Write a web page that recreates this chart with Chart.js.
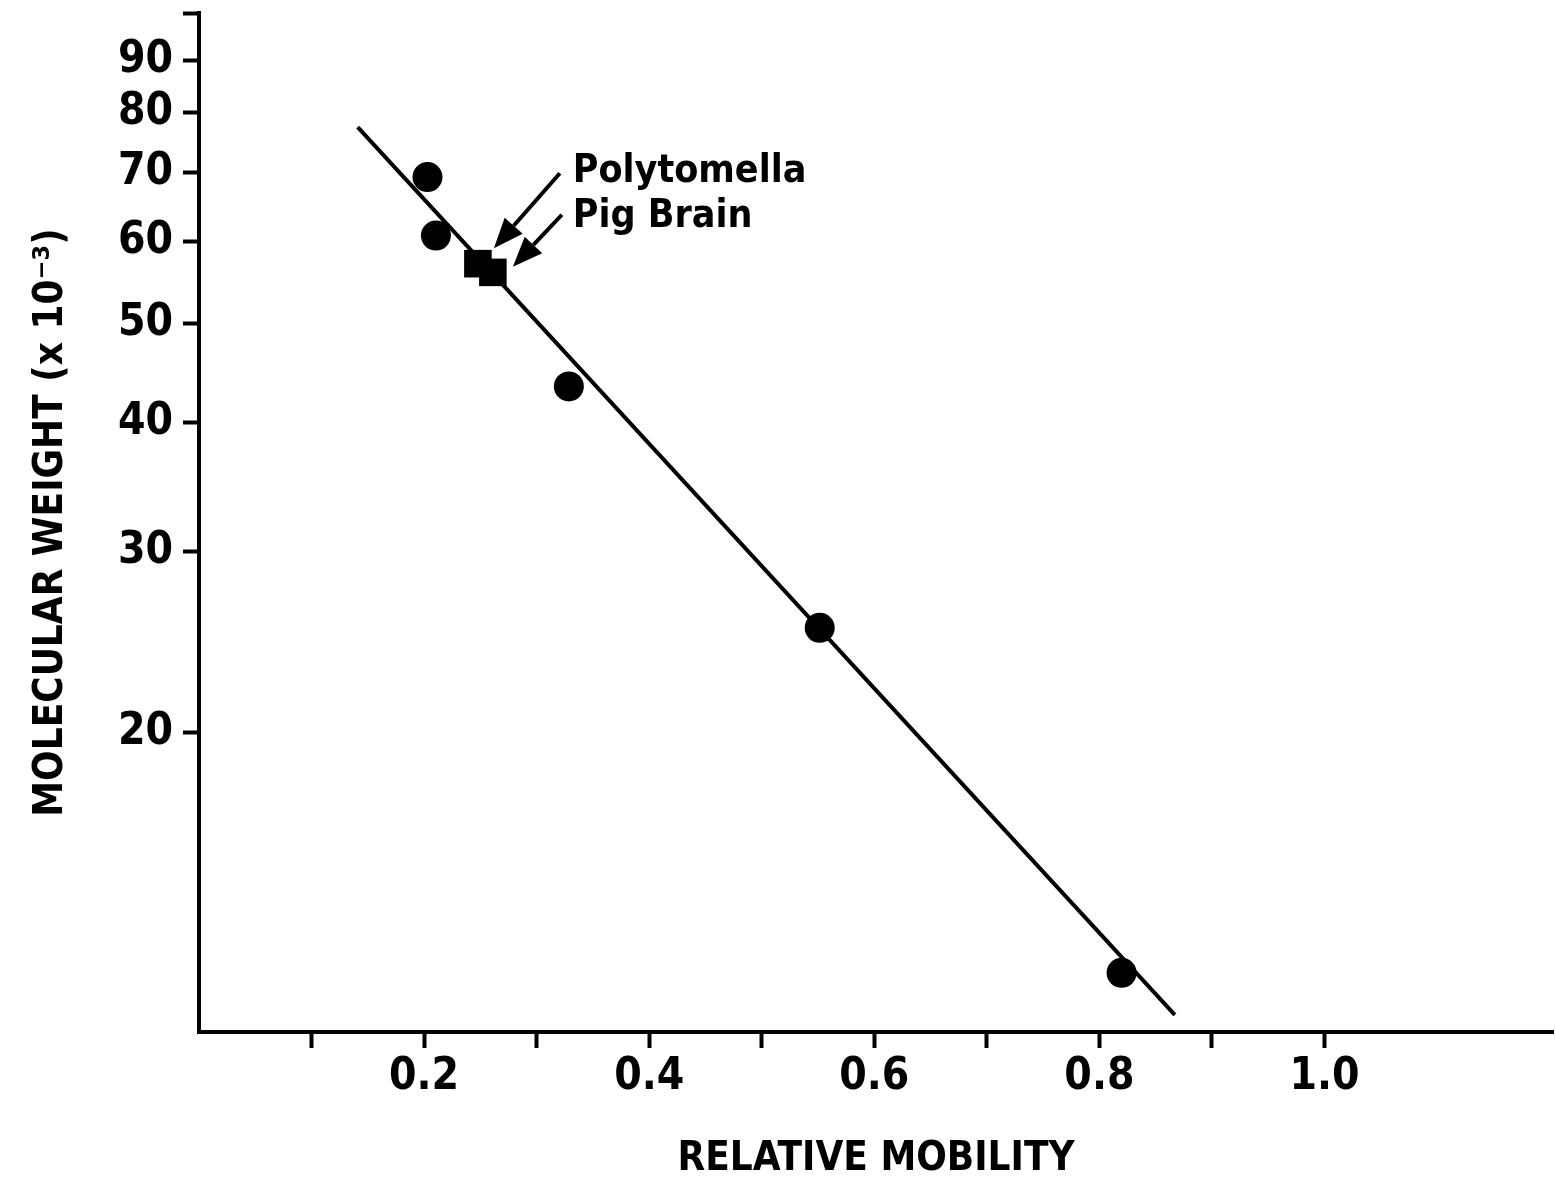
<!DOCTYPE html>
<html>
<head>
<meta charset="utf-8">
<style>
    html, body { margin: 0; padding: 0; background: #fff; }
    canvas { display: block; }
</style>
<script src="https://cdn.jsdelivr.net/npm/chart.js@4/dist/chart.umd.min.js"></script>
</head>
<body>
<canvas id="grafico" width="1555" height="1185"></canvas>
<script>
    // marker proteins (circles)
    const relMobility = [0.203, 0.2105, 0.3286, 0.5515, 0.8197];
    const molWeight = [69.3, 60.8, 43.4, 25.3, 11.7];

    // tubulins (squares): Polytomella, Pig Brain
    const tubulinMobility = [0.2478, 0.2611];
    const tubulinWeight = [57.1, 56.0];

    // fitted line end points
    const fitMobility = [0.141, 0.867];
    const fitWeight = [77.5, 10.65];

    const xTickValues = [0.1, 0.2, 0.3, 0.4, 0.5, 0.6, 0.7, 0.8, 0.9, 1.0];
    const xTickLabels = [0.2, 0.4, 0.6, 0.8, 1.0];
    const yTickValues = [20, 30, 40, 50, 60, 70, 80, 90, 100];
    const yTickLabels = [20, 30, 40, 50, 60, 70, 80, 90];

    const fonte = "'Liberation Sans Narrow', 'DejaVu Sans Condensed', sans-serif";

    // annotation texts and arrows, in data units
    const notas = [
        { texto: 'Polytomella', x: 0.332, y: 68.5 },
        { texto: 'Pig Brain', x: 0.332, y: 62.0 }
    ];
    const setas = [
        { de: [0.3206, 69.9], para: [0.262, 59.1] },
        { de: [0.3224, 63.7], para: [0.2789, 56.7] }
    ];

    function juntar(xs, ys) {
        return xs.map(function (x, i) {
            return { x: x, y: ys[i] };
        });
    }

    const anotacoes = {
        id: 'anotacoes',
        afterDatasetsDraw: function (chart) {
            const ctx = chart.ctx;
            const sx = chart.scales.x;
            const sy = chart.scales.y;
            ctx.save();
            ctx.fillStyle = '#000';
            ctx.strokeStyle = '#000';
            ctx.font = 'bold 39px ' + fonte;
            ctx.textBaseline = 'alphabetic';
            notas.forEach(function (n) {
                ctx.fillText(n.texto, sx.getPixelForValue(n.x), sy.getPixelForValue(n.y));
            });

            setas.forEach(function (s) {
                const x0 = sx.getPixelForValue(s.de[0]);
                const y0 = sy.getPixelForValue(s.de[1]);
                const x1 = sx.getPixelForValue(s.para[0]);
                const y1 = sy.getPixelForValue(s.para[1]);
                const ang = Math.atan2(y1 - y0, x1 - x0);
                const cabeca = 30;
                const larg = 12;
                const bx = x1 - cabeca * Math.cos(ang);
                const by = y1 - cabeca * Math.sin(ang);
                ctx.lineWidth = 4;
                ctx.beginPath();
                ctx.moveTo(x0, y0);
                ctx.lineTo(bx, by);
                ctx.stroke();
                ctx.beginPath();
                ctx.moveTo(x1, y1);
                ctx.lineTo(bx + larg * Math.sin(ang), by - larg * Math.cos(ang));
                ctx.lineTo(bx - larg * Math.sin(ang), by + larg * Math.cos(ang));
                ctx.closePath();
                ctx.fill();
            });
            ctx.restore();
        }
    };

    new Chart(document.getElementById('grafico'), {
        type: 'scatter',
        data: {
            datasets: [
                {
                    label: 'Tubulin',
                    data: juntar(tubulinMobility, tubulinWeight),
                    pointStyle: 'rect',
                    pointRadius: 19.5,
                    backgroundColor: '#000',
                    borderWidth: 0
                },
                {
                    label: 'Markers',
                    data: juntar(relMobility, molWeight),
                    pointStyle: 'circle',
                    pointRadius: 15,
                    backgroundColor: '#000',
                    borderWidth: 0
                },
                {
                    label: 'Fit',
                    data: juntar(fitMobility, fitWeight),
                    showLine: true,
                    pointRadius: 0,
                    borderColor: '#000',
                    borderWidth: 4
                }
            ]
        },
        options: {
            responsive: false,
            devicePixelRatio: 1,
            animation: false,
            layout: {
                autoPadding: false,
                padding: { top: 13, right: 2, left: 0, bottom: 0 }
            },
            plugins: {
                legend: { display: false },
                tooltip: { enabled: false }
            },
            scales: {
                x: {
                    type: 'linear',
                    min: 0,
                    max: 1.203,
                    afterBuildTicks: function (scale) {
                        scale.ticks = xTickValues.map(function (v) { return { value: v }; });
                    },
                    afterFit: function (scale) {
                        scale.height = 153;
                        scale.paddingLeft = 0;
                        scale.paddingRight = 0;
                    },
                    border: { display: true, color: '#000', width: 4 },
                    grid: {
                        drawOnChartArea: false,
                        drawTicks: true,
                        tickLength: 16,
                        tickWidth: 4,
                        tickColor: '#000'
                    },
                    ticks: {
                        autoSkip: false,
                        maxRotation: 0,
                        padding: 8,
                        color: '#000',
                        font: { family: fonte, size: 44, weight: 'bold', lineHeight: 1 },
                        callback: function (value) {
                            const v = Math.round(value * 10) / 10;
                            return xTickLabels.includes(v) ? v.toFixed(1) : '';
                        }
                    },
                    title: {
                        display: true,
                        text: 'RELATIVE MOBILITY',
                        color: '#000',
                        font: { family: fonte, size: 40, weight: 'bold', lineHeight: 1 },
                        padding: { top: 0, bottom: 5 }
                    }
                },
                y: {
                    type: 'logarithmic',
                    min: 10.25,
                    max: 100,
                    afterBuildTicks: function (scale) {
                        scale.ticks = yTickValues.map(function (v) { return { value: v }; });
                    },
                    afterFit: function (scale) {
                        scale.width = 199;
                        scale.paddingTop = 0;
                        scale.paddingBottom = 0;
                    },
                    border: { display: true, color: '#000', width: 4 },
                    grid: {
                        drawOnChartArea: false,
                        drawTicks: true,
                        tickLength: 16,
                        tickWidth: 4,
                        tickColor: '#000'
                    },
                    ticks: {
                        autoSkip: false,
                        padding: 10,
                        color: '#000',
                        font: { family: fonte, size: 44, weight: 'bold', lineHeight: 1 },
                        callback: function (value) {
                            return yTickLabels.includes(value) ? String(value) : '';
                        }
                    },
                    title: {
                        display: true,
                        text: 'MOLECULAR WEIGHT (x 10\u207B\u00B3)',
                        color: '#000',
                        font: { family: fonte, size: 40, weight: 'bold', lineHeight: 1 },
                        padding: { top: 32, bottom: 0 }
                    }
                }
            }
        },
        plugins: [anotacoes]
    });
</script>
</body>
</html>
